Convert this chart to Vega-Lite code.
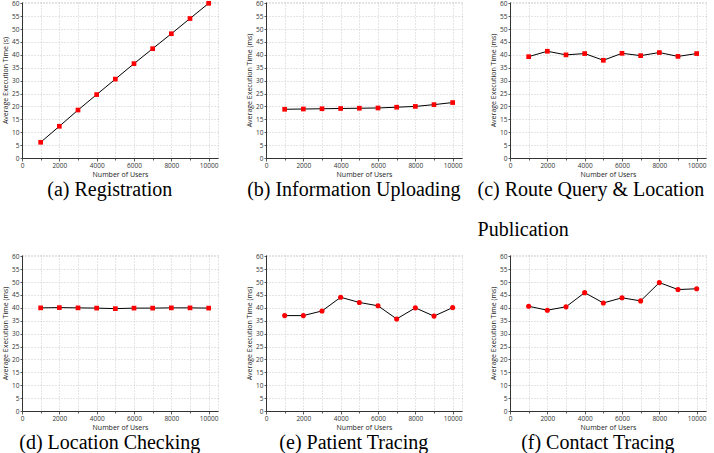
{
  "$schema": "https://vega.github.io/schema/vega-lite/v6.json",
  "padding": {"left": 1, "top": -1, "right": 0, "bottom": 0},
  "background": "white",
  "datasets": {
    "d": [
      {"p": "a", "users": 1000, "t": 6.1}, {"p": "a", "users": 2000, "t": 12.3}, {"p": "a", "users": 3000, "t": 18.6}, {"p": "a", "users": 4000, "t": 24.6}, {"p": "a", "users": 5000, "t": 30.6}, {"p": "a", "users": 6000, "t": 36.6}, {"p": "a", "users": 7000, "t": 42.4}, {"p": "a", "users": 8000, "t": 48.2}, {"p": "a", "users": 9000, "t": 54.1}, {"p": "a", "users": 10000, "t": 60.0},
      {"p": "b", "users": 1000, "t": 18.9}, {"p": "b", "users": 2000, "t": 19.0}, {"p": "b", "users": 3000, "t": 19.1}, {"p": "b", "users": 4000, "t": 19.2}, {"p": "b", "users": 5000, "t": 19.3}, {"p": "b", "users": 6000, "t": 19.4}, {"p": "b", "users": 7000, "t": 19.7}, {"p": "b", "users": 8000, "t": 20.0}, {"p": "b", "users": 9000, "t": 20.7}, {"p": "b", "users": 10000, "t": 21.5},
      {"p": "c", "users": 1000, "t": 39.3}, {"p": "c", "users": 2000, "t": 41.4}, {"p": "c", "users": 3000, "t": 40.0}, {"p": "c", "users": 4000, "t": 40.5}, {"p": "c", "users": 5000, "t": 37.9}, {"p": "c", "users": 6000, "t": 40.6}, {"p": "c", "users": 7000, "t": 39.7}, {"p": "c", "users": 8000, "t": 40.9}, {"p": "c", "users": 9000, "t": 39.4}, {"p": "c", "users": 10000, "t": 40.5},
      {"p": "d", "users": 1000, "t": 40.0}, {"p": "d", "users": 2000, "t": 40.1}, {"p": "d", "users": 3000, "t": 40.0}, {"p": "d", "users": 4000, "t": 39.9}, {"p": "d", "users": 5000, "t": 39.7}, {"p": "d", "users": 6000, "t": 39.9}, {"p": "d", "users": 7000, "t": 39.9}, {"p": "d", "users": 8000, "t": 40.0}, {"p": "d", "users": 9000, "t": 40.0}, {"p": "d", "users": 10000, "t": 39.9},
      {"p": "e", "users": 1000, "t": 37.0}, {"p": "e", "users": 2000, "t": 37.0}, {"p": "e", "users": 3000, "t": 38.8}, {"p": "e", "users": 4000, "t": 44.1}, {"p": "e", "users": 5000, "t": 42.1}, {"p": "e", "users": 6000, "t": 40.8}, {"p": "e", "users": 7000, "t": 35.7}, {"p": "e", "users": 8000, "t": 40.0}, {"p": "e", "users": 9000, "t": 36.8}, {"p": "e", "users": 10000, "t": 40.1},
      {"p": "f", "users": 1000, "t": 40.6}, {"p": "f", "users": 2000, "t": 39.1}, {"p": "f", "users": 3000, "t": 40.4}, {"p": "f", "users": 4000, "t": 45.9}, {"p": "f", "users": 5000, "t": 41.9}, {"p": "f", "users": 6000, "t": 43.9}, {"p": "f", "users": 7000, "t": 42.7}, {"p": "f", "users": 8000, "t": 49.8}, {"p": "f", "users": 9000, "t": 47.1}, {"p": "f", "users": 10000, "t": 47.4}
    ]
  },
  "data": {"name": "d"},
  "columns": 3,
  "bounds": "flush",
  "spacing": {"column": 48, "row": 97},
  "concat": [
    {
      "width": 196, "height": 156,
      "title": {"text": "(a) Registration"},
      "transform": [{"filter": "datum.p === 'a'"}],
      "encoding": {
        "x": {"field": "users", "type": "quantitative", "scale": {"domain": [0, 10500], "nice": false}, "axis": {"title": "Number of Users", "values": [0, 1000, 2000, 3000, 4000, 5000, 6000, 7000, 8000, 9000, 10000]}},
        "y": {"field": "t", "type": "quantitative", "scale": {"domain": [0, 60.5], "nice": false}, "axis": {"title": "Average Execution Time (s)", "values": [0, 5, 10, 15, 20, 25, 30, 35, 40, 45, 50, 55, 60]}}
      },
      "layer": [
        {"mark": {"type": "line", "color": "#000000", "strokeWidth": 1}},
        {"mark": {"type": "point", "shape": "square", "filled": true, "color": "#ff0000", "size": 22, "opacity": 1}}
      ]
    },
    {
      "width": 196, "height": 156,
      "title": {"text": "(b) Information Uploading"},
      "transform": [{"filter": "datum.p === 'b'"}],
      "encoding": {
        "x": {"field": "users", "type": "quantitative", "scale": {"domain": [0, 10500], "nice": false}, "axis": {"title": "Number of Users", "values": [0, 1000, 2000, 3000, 4000, 5000, 6000, 7000, 8000, 9000, 10000]}},
        "y": {"field": "t", "type": "quantitative", "scale": {"domain": [0, 60.5], "nice": false}, "axis": {"title": "Average Execution Time (ms)", "values": [0, 5, 10, 15, 20, 25, 30, 35, 40, 45, 50, 55, 60]}}
      },
      "layer": [
        {"mark": {"type": "line", "color": "#000000", "strokeWidth": 1}},
        {"mark": {"type": "point", "shape": "square", "filled": true, "color": "#ff0000", "size": 22, "opacity": 1}}
      ]
    },
    {
      "width": 196, "height": 156,
      "title": {"text": ["(c) Route Query & Location", "Publication"], "anchor": "start", "dx": -12},
      "transform": [{"filter": "datum.p === 'c'"}],
      "encoding": {
        "x": {"field": "users", "type": "quantitative", "scale": {"domain": [0, 10500], "nice": false}, "axis": {"title": "Number of Users", "values": [0, 1000, 2000, 3000, 4000, 5000, 6000, 7000, 8000, 9000, 10000]}},
        "y": {"field": "t", "type": "quantitative", "scale": {"domain": [0, 60.5], "nice": false}, "axis": {"title": "Average Execution Time (ms)", "values": [0, 5, 10, 15, 20, 25, 30, 35, 40, 45, 50, 55, 60]}}
      },
      "layer": [
        {"mark": {"type": "line", "color": "#000000", "strokeWidth": 1}},
        {"mark": {"type": "point", "shape": "square", "filled": true, "color": "#ff0000", "size": 22, "opacity": 1}}
      ]
    },
    {
      "width": 196, "height": 156,
      "title": {"text": "(d) Location Checking"},
      "transform": [{"filter": "datum.p === 'd'"}],
      "encoding": {
        "x": {"field": "users", "type": "quantitative", "scale": {"domain": [0, 10500], "nice": false}, "axis": {"title": "Number of Users", "values": [0, 1000, 2000, 3000, 4000, 5000, 6000, 7000, 8000, 9000, 10000]}},
        "y": {"field": "t", "type": "quantitative", "scale": {"domain": [0, 60.5], "nice": false}, "axis": {"title": "Average Execution Time (ms)", "values": [0, 5, 10, 15, 20, 25, 30, 35, 40, 45, 50, 55, 60]}}
      },
      "layer": [
        {"mark": {"type": "line", "color": "#000000", "strokeWidth": 1}},
        {"mark": {"type": "point", "shape": "square", "filled": true, "color": "#ff0000", "size": 22, "opacity": 1}}
      ]
    },
    {
      "width": 196, "height": 156,
      "title": {"text": "(e) Patient Tracing"},
      "transform": [{"filter": "datum.p === 'e'"}],
      "encoding": {
        "x": {"field": "users", "type": "quantitative", "scale": {"domain": [0, 10500], "nice": false}, "axis": {"title": "Number of Users", "values": [0, 1000, 2000, 3000, 4000, 5000, 6000, 7000, 8000, 9000, 10000]}},
        "y": {"field": "t", "type": "quantitative", "scale": {"domain": [0, 60.5], "nice": false}, "axis": {"title": "Average Execution Time (ms)", "values": [0, 5, 10, 15, 20, 25, 30, 35, 40, 45, 50, 55, 60]}}
      },
      "layer": [
        {"mark": {"type": "line", "color": "#000000", "strokeWidth": 1}},
        {"mark": {"type": "point", "shape": "circle", "filled": true, "color": "#ff0000", "size": 26, "opacity": 1}}
      ]
    },
    {
      "width": 196, "height": 156,
      "title": {"text": "(f) Contact Tracing"},
      "transform": [{"filter": "datum.p === 'f'"}],
      "encoding": {
        "x": {"field": "users", "type": "quantitative", "scale": {"domain": [0, 10500], "nice": false}, "axis": {"title": "Number of Users", "values": [0, 1000, 2000, 3000, 4000, 5000, 6000, 7000, 8000, 9000, 10000]}},
        "y": {"field": "t", "type": "quantitative", "scale": {"domain": [0, 60.5], "nice": false}, "axis": {"title": "Average Execution Time (ms)", "values": [0, 5, 10, 15, 20, 25, 30, 35, 40, 45, 50, 55, 60]}}
      },
      "layer": [
        {"mark": {"type": "line", "color": "#000000", "strokeWidth": 1}},
        {"mark": {"type": "point", "shape": "circle", "filled": true, "color": "#ff0000", "size": 26, "opacity": 1}}
      ]
    }
  ],
  "config": {
    "view": {"stroke": "#c8c8c8", "strokeDash": [1, 2], "strokeWidth": 1},
    "title": {"orient": "bottom", "font": "Liberation Serif", "fontSize": 20, "fontWeight": "normal", "color": "#000000", "anchor": "middle", "frame": "bounds", "offset": 2, "lineHeight": 40},
    "axisX": {
      "labelExpr": "datum.value % 2000 === 0 ? datum.value : ''",
      "format": "d",
      "tickSize": {"condition": {"test": "datum.value % 2000 === 0", "value": 3}, "value": 2},
      "labelFlush": false,
      "labelOverlap": false,
      "titlePadding": 2
    },
    "axisY": {
      "tickSize": 2,
      "titlePadding": 3,
      "labelPadding": 1
    },
    "axis": {
      "labelFont": "Open Sans", "labelFontSize": 6.5, "labelColor": "#333333",
      "titleFont": "Open Sans", "titleFontSize": 7, "titleFontWeight": "normal", "titleColor": "#222222",
      "domainColor": "#333333", "tickColor": "#333333", "domainWidth": 1, "tickWidth": 0.8,
      "gridColor": "#bdbdbd", "gridDash": [1, 2], "gridWidth": 0.8,
      "labelPadding": 1
    }
  }
}
